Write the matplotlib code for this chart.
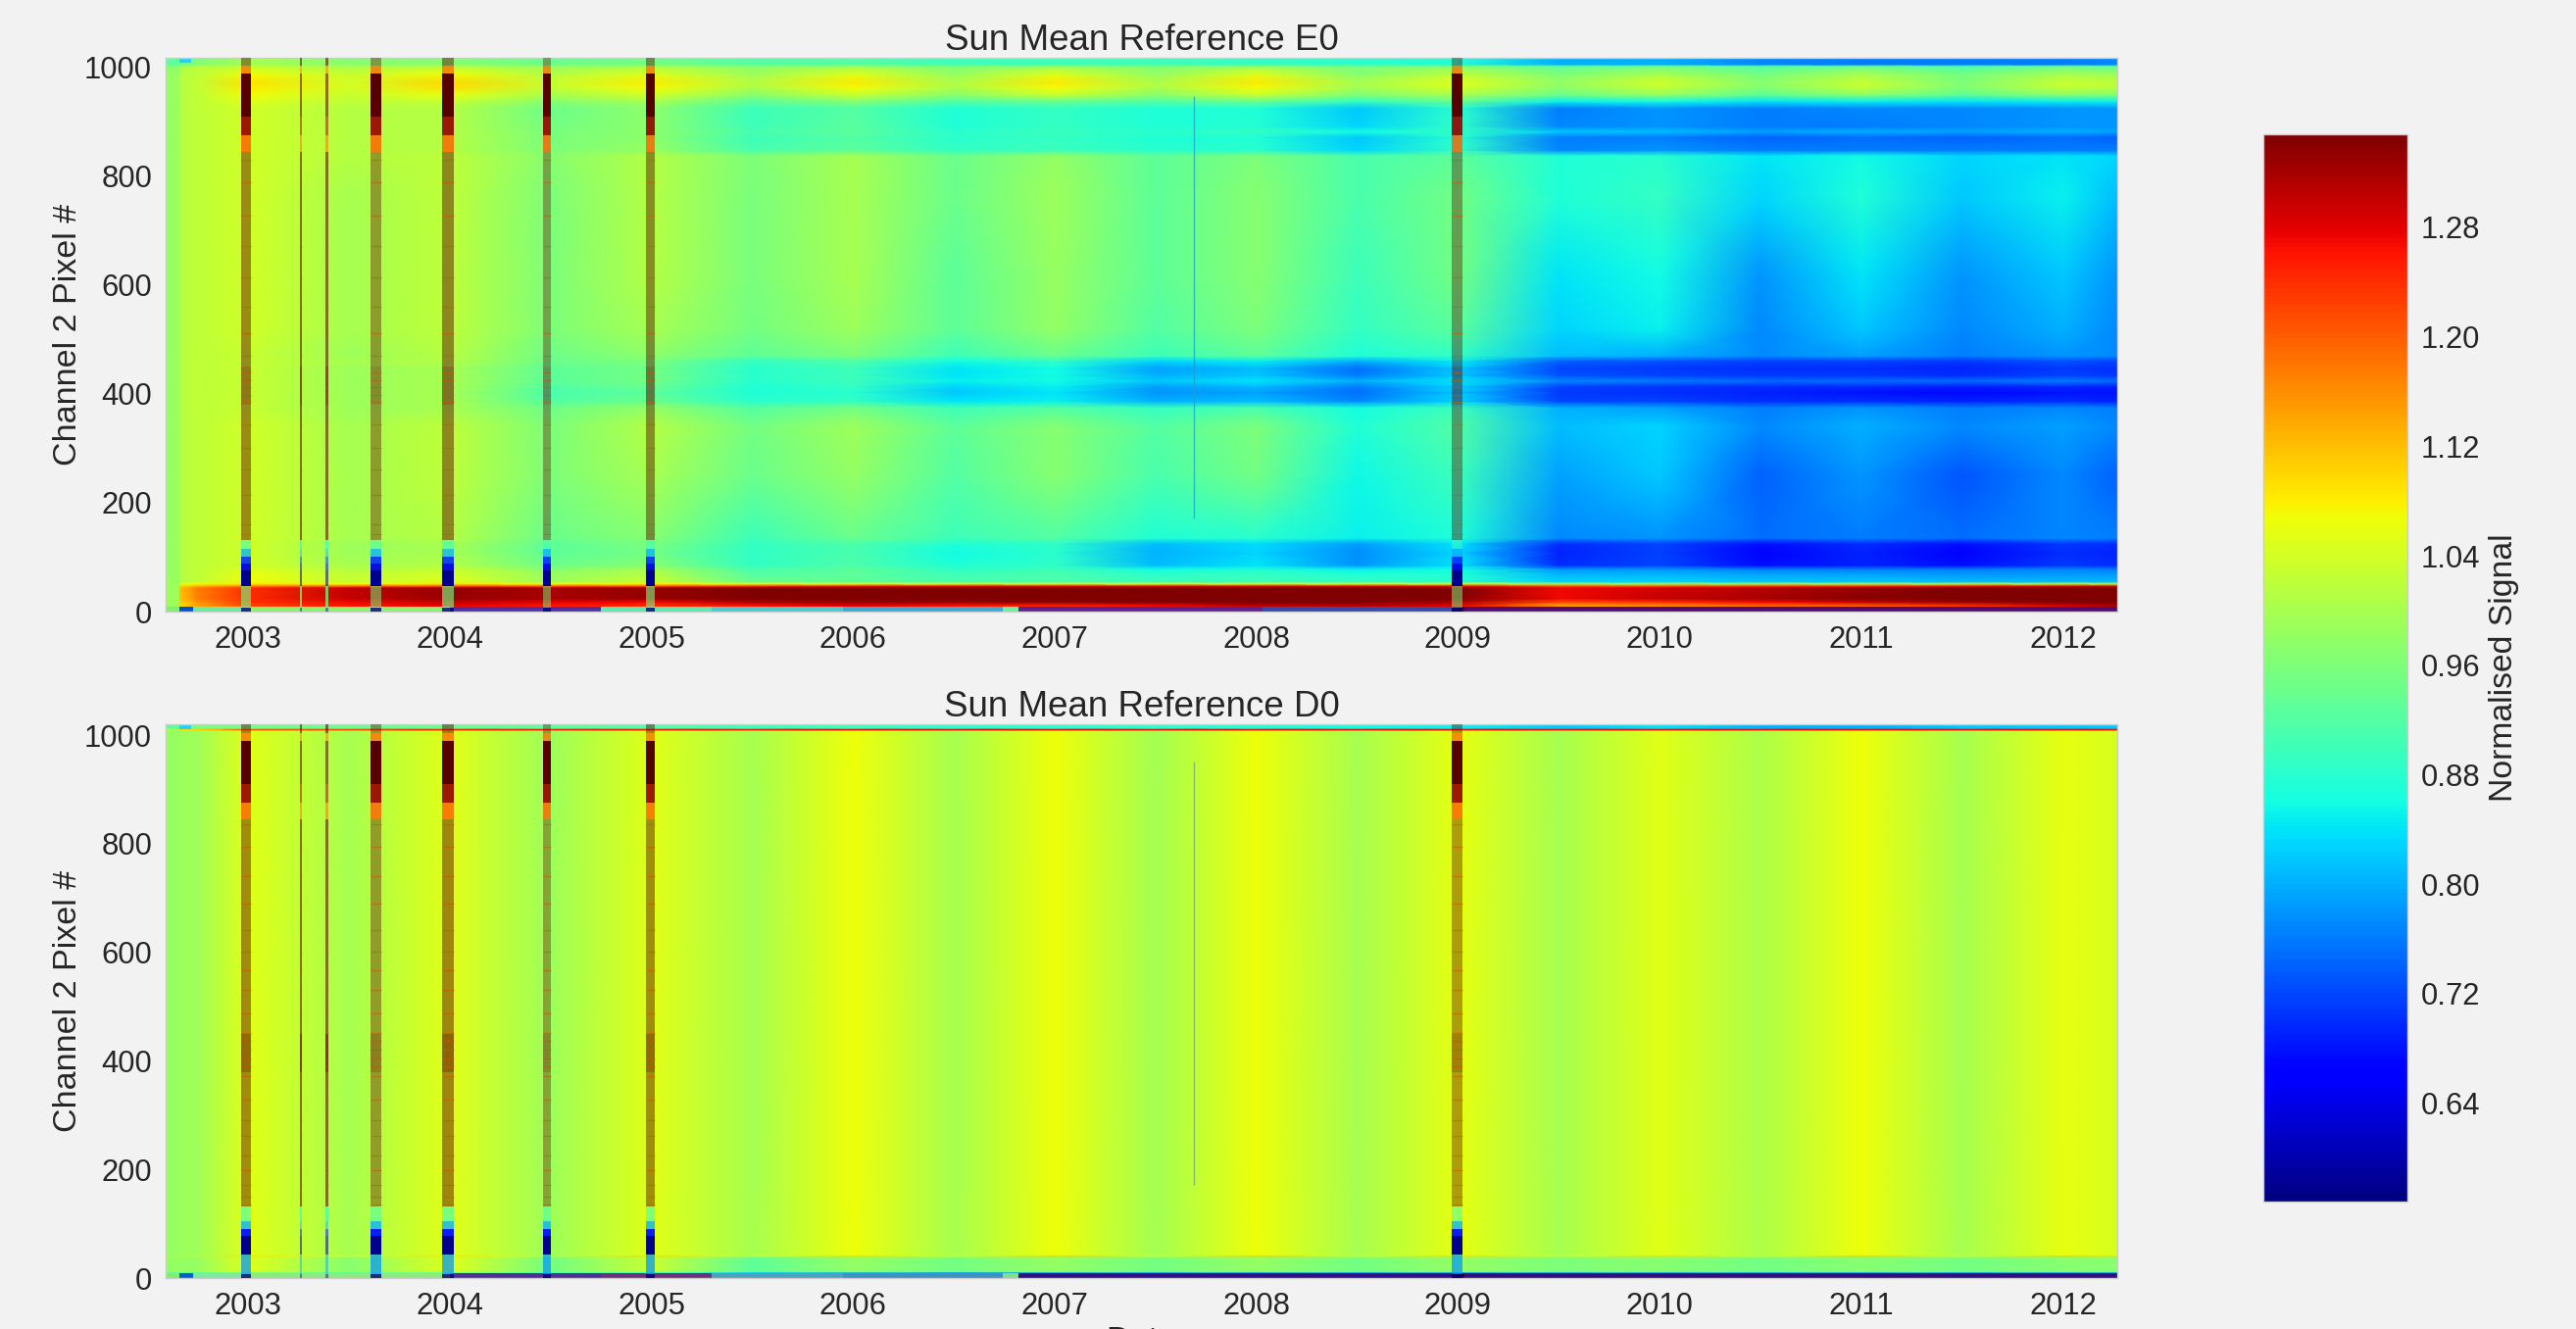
import numpy as np
import matplotlib
matplotlib.use("Agg")
import matplotlib.pyplot as plt
from matplotlib.colors import Normalize

plt.rcParams['font.family'] = ['Liberation Sans', 'DejaVu Sans']

# ---------- axes data ----------
YEARS = [2003, 2004, 2005, 2006, 2007, 2008, 2009, 2010, 2011, 2012]
PIXEL_TICKS = [0, 200, 400, 600, 800, 1000]
CBAR_TICKS = [0.64, 0.72, 0.80, 0.88, 0.96, 1.04, 1.12, 1.20, 1.28]
VMIN, VMAX = 0.568, 1.348
XLIM = (2002.59, 2012.27)

# time knots of the tables
T = [2002.59, 2002.655, 2002.665, 2002.72, 2002.74,
     2003.0, 2003.5, 2004.0, 2004.5, 2005.0, 2005.5, 2006.0, 2006.5, 2007.0, 2007.5,
     2008.0, 2008.5, 2009.0, 2009.5, 2010.0, 2010.5, 2011.0, 2011.5, 2012.0, 2012.27]

AMB = [.985, .985, 1.01, 1.02, 1.02]   # early columns, most pixels

# ---------- E0 : signal per pixel row (rows) and time knot (columns) ----------
E0_PIX = [0, 9, 11, 18, 24, 44, 47, 51, 55, 70, 78, 85, 108, 125, 135, 250, 340, 375, 387, 403, 414,
          424, 434, 447, 461, 470, 520, 620, 760, 838, 848, 872, 882, 892, 925, 938, 950, 962, 973,
          988, 1003, 1006, 1018]
E0_VALUES = [
 [.99,.99,1.08,1.10,1.12, 1.20,1.24,1.26,1.24,1.23,1.25,1.27,1.25,1.24,1.26,1.29,1.29,1.27,1.15,1.15,1.18,1.19,1.22,1.27,1.30],
 [.99,.99,1.08,1.10,1.12, 1.20,1.24,1.26,1.24,1.23,1.25,1.27,1.25,1.24,1.26,1.29,1.29,1.27,1.15,1.15,1.18,1.19,1.22,1.27,1.30],
 [.99,.99,1.10,1.12,1.14, 1.22,1.26,1.28,1.26,1.24,1.26,1.28,1.26,1.25,1.27,1.31,1.31,1.28,1.14,1.16,1.19,1.20,1.24,1.29,1.32],
 [.99,.99,1.11,1.13,1.15, 1.24,1.27,1.30,1.28,1.27,1.32,1.33,1.33,1.34,1.35,1.36,1.36,1.32,1.22,1.24,1.27,1.30,1.33,1.36,1.38],
 [.99,.99,1.12,1.15,1.17, 1.24,1.30,1.33,1.32,1.33,1.37,1.38,1.38,1.38,1.38,1.38,1.38,1.36,1.27,1.30,1.32,1.34,1.37,1.38,1.38],
 [.99,.99,1.12,1.15,1.17, 1.24,1.30,1.33,1.32,1.33,1.36,1.37,1.38,1.38,1.38,1.38,1.38,1.36,1.27,1.29,1.31,1.33,1.36,1.38,1.38],
 [.99,.99,1.10,1.12,1.13, 1.18,1.20,1.22,1.22,1.22,1.25,1.27,1.28,1.28,1.29,1.29,1.29,1.28,1.22,1.22,1.24,1.25,1.27,1.29,1.30],
 [.99,.99,1.05,1.06,1.07, 1.09,1.07,1.09,1.07,1.08,1.05,1.05,1.04,1.04,1.04,1.04,1.04,1.04,1.00,1.00,1.00,1.01,1.01,1.02,1.02],
 [*AMB, 1.07,1.03,1.05,.99,1.03,.94,.93,.91,.91,.90,.90,.89,.88,.83,.83,.82,.82,.81,.81,.81],
 [*AMB, 1.06,1.02,1.04,.98,1.01,.92,.93,.90,.91,.88,.89,.87,.87,.80,.80,.79,.79,.78,.78,.78],
 [*AMB, 1.05,1.01,1.03,.97,1.00,.91,.93,.89,.90,.86,.87,.85,.86,.78,.78,.76,.76,.76,.77,.76],
 [*AMB, 1.04,1.00,1.01,.945,.97,.89,.915,.87,.885,.81,.84,.78,.84,.70,.72,.675,.69,.675,.71,.70],
 [*AMB, 1.04,.99,1.00,.93,.95,.885,.91,.86,.88,.80,.83,.775,.83,.69,.715,.665,.69,.665,.70,.69],
 [*AMB, 1.04,.99,1.00,.93,.955,.89,.915,.87,.885,.81,.835,.785,.84,.70,.72,.675,.70,.675,.71,.70],
 [*AMB, 1.04,1.00,1.01,.94,.97,.90,.94,.90,.92,.87,.88,.85,.87,.77,.78,.75,.76,.75,.77,.76],
 [*AMB, 1.04,1.00,1.02,.96,1.00,.94,.98,.92,.97,.91,.95,.855,.90,.79,.82,.74,.78,.73,.77,.74],
 [*AMB, 1.04,1.00,1.02,.96,1.01,.95,.99,.93,.97,.92,.96,.87,.92,.81,.83,.77,.80,.77,.79,.77],
 [*AMB, 1.03,.99,1.00,.945,.98,.92,.95,.90,.92,.89,.91,.86,.90,.80,.79,.76,.78,.76,.77,.76],
 [*AMB, 1.03,.99,1.00,.92,.94,.88,.89,.84,.85,.80,.81,.77,.83,.72,.72,.70,.70,.69,.70,.69],
 [*AMB, 1.03,.99,1.00,.91,.93,.87,.88,.82,.84,.78,.79,.75,.82,.71,.70,.69,.68,.67,.68,.68],
 [*AMB, 1.03,.99,1.00,.92,.94,.87,.89,.83,.85,.79,.81,.76,.83,.72,.71,.70,.70,.69,.70,.69],
 [*AMB, 1.03,.99,1.00,.93,.95,.88,.90,.85,.86,.82,.84,.80,.84,.77,.76,.75,.75,.75,.76,.75],
 [*AMB, 1.03,.99,1.00,.93,.95,.88,.90,.84,.86,.80,.82,.76,.82,.73,.72,.71,.71,.70,.72,.71],
 [*AMB, 1.03,.99,1.00,.93,.95,.88,.90,.84,.86,.79,.81,.75,.82,.72,.71,.70,.70,.69,.71,.70],
 [*AMB, 1.03,1.00,1.01,.94,.96,.89,.92,.86,.89,.83,.85,.80,.85,.74,.73,.72,.72,.71,.73,.72],
 [*AMB, 1.03,.99,1.01,.945,.975,.93,.96,.90,.94,.90,.93,.87,.89,.81,.80,.77,.79,.76,.78,.77],
 [*AMB, 1.04,1.00,1.02,.96,1.00,.95,.99,.93,.98,.92,.96,.89,.93,.83,.85,.77,.82,.77,.80,.77],
 [*AMB, 1.04,1.00,1.02,.96,1.01,.955,1.00,.93,.985,.93,.97,.90,.95,.84,.86,.78,.84,.78,.82,.78],
 [*AMB, 1.04,1.00,1.02,.96,1.01,.955,1.00,.94,.99,.93,.97,.91,.95,.87,.89,.83,.87,.82,.85,.81],
 [*AMB, 1.04,1.01,1.02,.97,1.01,.96,1.00,.94,.98,.93,.96,.91,.93,.87,.88,.84,.86,.83,.84,.83],
 [*AMB, 1.04,1.01,1.01,.96,.985,.91,.93,.89,.90,.88,.88,.83,.89,.77,.78,.76,.76,.76,.76,.76],
 [*AMB, 1.04,1.01,1.01,.955,.975,.90,.92,.88,.89,.87,.87,.82,.88,.76,.76,.74,.75,.74,.75,.74],
 [*AMB, 1.04,1.01,1.01,.955,.975,.91,.93,.88,.90,.88,.89,.86,.89,.82,.81,.79,.80,.79,.80,.79],
 [*AMB, 1.04,1.01,1.01,.95,.975,.90,.925,.87,.89,.87,.875,.83,.885,.77,.78,.76,.76,.77,.78,.78],
 [*AMB, 1.04,1.01,1.01,.945,.975,.90,.92,.87,.89,.87,.87,.82,.88,.76,.78,.76,.77,.77,.78,.78],
 [*AMB, 1.05,1.02,1.03,.97,1.00,.93,.97,.92,.94,.92,.94,.89,.94,.85,.86,.84,.85,.84,.85,.85],
 [*AMB, 1.07,1.03,1.06,1.00,1.04,.97,1.03,.97,1.03,.97,1.03,.96,1.00,.94,.98,.93,.97,.93,.97,.96],
 [*AMB, 1.08,1.04,1.09,1.02,1.07,1.00,1.07,1.00,1.07,1.00,1.07,.99,1.04,.97,1.02,.96,1.02,.96,1.02,1.01],
 [*AMB, 1.09,1.04,1.10,1.03,1.08,1.01,1.085,1.005,1.085,1.005,1.085,1.00,1.05,.98,1.04,.97,1.03,.96,1.03,1.02],
 [*AMB, 1.07,1.03,1.07,1.01,1.05,.99,1.05,.98,1.05,.98,1.05,.97,1.02,.96,1.00,.95,1.00,.95,1.00,.99],
 [.97,.97,1.00,1.01,1.01, 1.02,1.00,1.01,.98,1.00,.97,.99,.96,.98,.96,.98,.95,.97,.93,.95,.92,.94,.91,.94,.93],
 [.93,.93,.93,.95,.96, 1.00,.97,.97,.94,.95,.92,.92,.90,.90,.90,.89,.88,.87,.80,.80,.77,.76,.76,.76,.77],
 [.93,.93,.93,.95,.96, 1.00,.97,.97,.94,.95,.92,.92,.90,.90,.90,.89,.88,.87,.80,.80,.77,.76,.76,.76,.77],
]

# ---------- D0 ----------
D0_PIX = [0, 8, 10, 12, 38, 41, 43, 60, 1008, 1010, 1012, 1013, 1015, 1020]
D0_MAIN = [.985, .985, .99, .99, .99, 1.055, 1.00, 1.055, .99, 1.055, 1.00, 1.065, 1.00, 1.065, .995,
           1.065, 1.00, 1.06, 1.00, 1.055, 1.005, 1.065, 1.00, 1.06, 1.045]
D0_LOW  = [.98, .98, .98, .98, .98, 1.05, .97, 1.05, .95, 1.03, .93, .98, .95, .98, .95,
           .98, .95, .98, .96, .97, .95, .97, .95, .97, .97]
D0_LINE = [.93, .93, .92, .92, .93, .94, .93, .93, .90, .88, .82, .80, .78, .78, .78,
           .78, .78, .78, .78, .78, .78, .78, .78, .78, .78]
D0_RIDGE = [1.01, 1.01, 1.02, 1.02, 1.03, 1.09, 1.05, 1.09, 1.04, 1.10, 1.05, 1.10, 1.05, 1.11, 1.05,
            1.11, 1.05, 1.10, 1.05, 1.10, 1.05, 1.11, 1.05, 1.11, 1.09]
D0_REDLINE = [1.0, 1.0, 1.1, 1.1, 1.1, 1.2, 1.22, 1.25, 1.26, 1.26, 1.26, 1.27, 1.27, 1.27, 1.27,
              1.27, 1.27, 1.27, 1.27, 1.27, 1.27, 1.27, 1.27, 1.27, 1.27]
D0_TOPEDGE = [.93, .93, .93, .95, .96, .95, .94, .94, .93, .92, .90, .90, .88, .88, .88,
              .87, .86, .85, .82, .84, .80, .80, .82, .82, .82]
D0_VALUES = [D0_LINE, D0_LINE, D0_LINE, D0_LOW, D0_LOW, D0_RIDGE, D0_MAIN, D0_MAIN, D0_MAIN,
             D0_REDLINE, D0_REDLINE, D0_TOPEDGE, D0_TOPEDGE, D0_TOPEDGE]

# ---------- bad-date stripes (start, end in years; strength of the mixes) ----------
STRIPE_START = [2002.966, 2003.255, 2003.384, 2003.608, 2003.963, 2004.464, 2004.970, 2008.971]
STRIPE_END   = [2003.015, 2003.267, 2003.399, 2003.661, 2004.017, 2004.503, 2005.018, 2009.024]
STRIPE_MIX   = [1.0, 1.25, 1.25, 0.85, 1.05, 0.8, 1.0, 0.85]
STRIPE_CORE  = [1.0, 0.55, 0.55, 1.0, 1.0, 1.0, 1.0, 1.0]

E0_ST_PIX = [0, 8, 47, 75, 88, 100, 115, 131, 170, 380, 450, 845, 876, 910, 989, 1003, 1018]
E0_ST_VAL = [.57, .95, .58, .64, .70, .80, .90, 1.6, 1.6, 1.6, 1.6, 1.20, 1.33, 1.6, 1.20, 1.6]
E0_ST_ALP = [.80, .60, 1.0, .95, .90, .75, .60, .45, .45, .52, .45, .80, .90, 1.0, .70, .45]

D0_ST_PIX = [0, 8, 43, 78, 90, 105, 131, 170, 380, 450, 845, 876, 910, 989, 1003, 1020]
D0_ST_VAL = [.57, .78, .58, .68, .80, .90, 1.6, 1.6, 1.6, 1.6, 1.20, 1.33, 1.6, 1.20, 1.6]
D0_ST_ALP = [.80, .72, 1.0, .95, .78, .60, .45, .45, .58, .45, .80, .90, 1.0, .70, .45]

# fine orange dashes inside the stripes (pixel rows)
E0_DASHES = [142, 160, 215, 262, 300, 345, 385, 398, 412, 426, 440, 470, 512, 560, 615, 672, 728, 790, 830]
D0_DASHES = [135, 150, 172, 198, 226, 262, 290, 328, 372, 390, 405, 420, 436, 452, 488, 530, 566, 602,
             640, 690, 740, 795, 835]
DASH_C = '#c85a00'

# ---------- thin edge cells ----------
E0_BOTTOM_X = [2002.59, 2002.66, 2002.725, 2003.0, 2004.0, 2004.75, 2005.3, 2005.95, 2006.74, 2006.82, 2008.03, 2008.97, 2009.03]
E0_BOTTOM_W = [.07, .065, .275, 1.0, .75, .55, .65, .79, .08, 1.21, .94, .06, 3.24]
E0_BOTTOM_C = ['#80f070', '#0050d0', '#70e8a0', '#90f070', '#5030a0', '#60e8b0', '#50c8d0', '#40a8d0',
               '#70f0a0', '#602090', '#3848a8', '#300030', '#500a70']
D0_BOTTOM_X = E0_BOTTOM_X
D0_BOTTOM_W = E0_BOTTOM_W
D0_BOTTOM_C = ['#80f070', '#0060d0', '#80e8a0', '#90e880', '#503098', '#703080', '#50a0c0', '#4090c0',
               '#80e090', '#301088', '#301088', '#300030', '#301080']
TOP_CELL_X, TOP_CELL_W = [2002.66], [0.055]
TOP_CELL_C = '#20d0ff'
E0_LINE_C, D0_LINE_C = '#1ea0c8', '#70a080'
E0_LINE_Y, D0_LINE_Y = (171, 948), (172, 951)
LINE_X = 2007.69

W, H = 2628, 1356
BG = '#f2f2f2'
TXT = '#262626'
fig = plt.figure(figsize=(W / 100, H / 100), dpi=100, facecolor=BG)


def box(l, t, r, b):
    return [l / W, 1 - b / H, (r - l) / W, (b - t) / H]


cmap = matplotlib.colormaps['jet'].with_extremes(over='#560000')
norm = Normalize(VMIN, VMAX)


def panel(rect, title, pix, vals, st_pix, st_val, st_alp, dashes, bx, bw, bc, lc, ly, ymax, xlabel=None):
    ax = fig.add_axes(box(*rect), facecolor=BG)
    ax.pcolormesh(T, pix, np.clip(np.array(vals), None, VMAX), cmap=cmap, norm=norm,
                  shading='gouraud', zorder=1)
    ax.broken_barh(list(zip(bx, bw)), (0, 9), facecolors=bc, zorder=2, linewidth=0)
    ax.broken_barh(list(zip(TOP_CELL_X, TOP_CELL_W)), (ymax - 9, 9), facecolors=TOP_CELL_C, zorder=2, linewidth=0)
    ax.vlines(LINE_X, ly[0], ly[1], color=lc, lw=1.0, alpha=0.75, zorder=3)
    sv = np.array(st_val)[:, None]
    sa = np.array(st_alp)
    for x0, x1, m, c in zip(STRIPE_START, STRIPE_END, STRIPE_MIX, STRIPE_CORE):
        al = np.where(sa < 0.7, np.minimum(sa * m, 1), sa * c)[:, None]
        ax.pcolormesh([x0, x1], st_pix, sv, cmap=cmap, norm=norm, alpha=al,
                      shading='flat', zorder=4, antialiased=False, linewidth=0)
        ax.hlines(dashes, x0, x1, color=DASH_C, lw=0.9, alpha=0.55 * min(c, 1), zorder=5)
    ax.set_xlim(*XLIM)
    ax.set_ylim(0, ymax)
    ax.set_xticks(YEARS)
    ax.set_xticklabels([str(y) for y in YEARS])
    ax.set_yticks(PIXEL_TICKS)
    ax.tick_params(length=0, labelsize=22.3, colors=TXT, pad=10)
    ax.set_ylabel('Channel 2 Pixel #', fontsize=24.5, color=TXT, labelpad=1)
    ax.set_title(title, fontsize=26.5, color=TXT, pad=5)
    if xlabel:
        ax.set_xlabel(xlabel, fontsize=24.5, color=TXT, labelpad=4)
    for s in ax.spines.values():
        s.set_color('#cccccc')
        s.set_linewidth(1)
    ax.grid(False)
    return ax


panel((169, 59, 2160, 624), 'Sun Mean Reference E0', E0_PIX, E0_VALUES,
      E0_ST_PIX, E0_ST_VAL, E0_ST_ALP, E0_DASHES, E0_BOTTOM_X, E0_BOTTOM_W, E0_BOTTOM_C,
      E0_LINE_C, E0_LINE_Y, 1018)
panel((169, 739, 2160, 1304), 'Sun Mean Reference D0', D0_PIX, D0_VALUES,
      D0_ST_PIX, D0_ST_VAL, D0_ST_ALP, D0_DASHES, D0_BOTTOM_X, D0_BOTTOM_W, D0_BOTTOM_C,
      D0_LINE_C, D0_LINE_Y, 1020, xlabel='Date')

cax = fig.add_axes(box(2309, 137, 2456, 1226))
sm = plt.cm.ScalarMappable(norm=norm, cmap=matplotlib.colormaps['jet'])
cb = fig.colorbar(sm, cax=cax, ticks=CBAR_TICKS)
cb.ax.set_yticklabels([f'{t:.2f}' for t in CBAR_TICKS])
cb.ax.tick_params(length=0, labelsize=22.3, colors=TXT, pad=10)
cb.outline.set_edgecolor('#cccccc')
cb.outline.set_linewidth(1)
cb.set_label('Normalised Signal', fontsize=24.3, color=TXT, labelpad=6)

fig.savefig('out.png', dpi=100, facecolor=BG)
